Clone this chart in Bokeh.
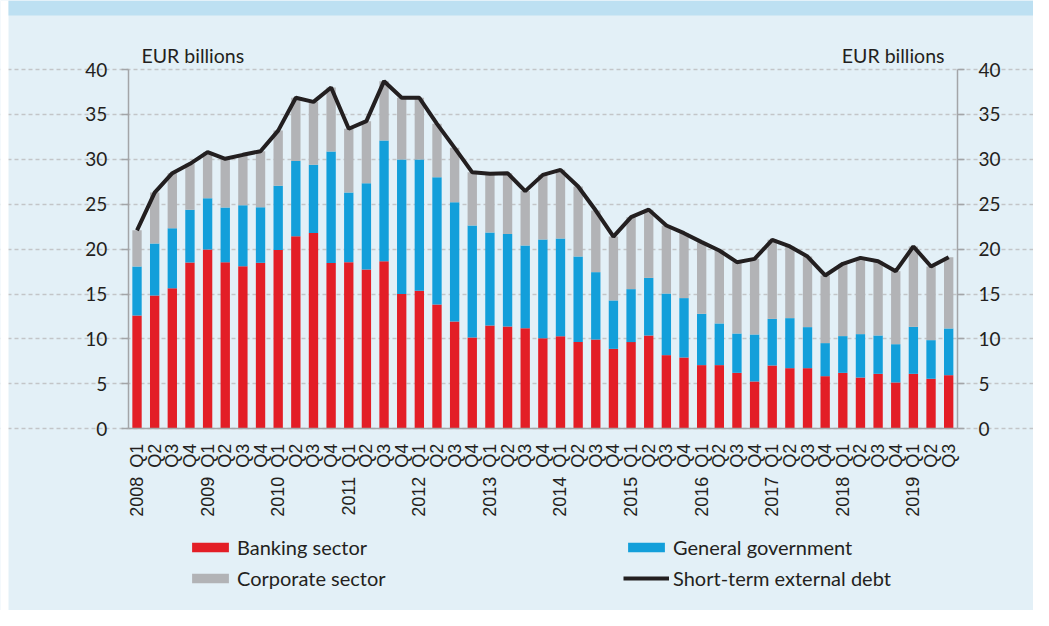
import numpy as np
from bokeh.plotting import figure
from bokeh.models import (ColumnDataSource, Range1d, LinearAxis, FixedTicker,
                          Legend, LegendItem, Label, BoxAnnotation)
from bokeh.embed import file_html
from bokeh.resources import INLINE

# ---------------- data (EUR billions) ----------------
years = list(range(2008, 2020))
quarters = ["Q1", "Q2", "Q3", "Q4"]
periods = [(y, q) for y in years for q in quarters][:47]

banking = [12.6, 14.84, 15.66, 18.5, 19.96, 18.55, 18.1, 18.48, 19.9, 21.45,
           21.8, 18.45, 18.55, 17.74, 18.66, 15.0, 15.36, 13.84, 11.95, 10.17,
           11.5, 11.39, 11.2, 10.09, 10.3, 9.65, 9.94, 8.9, 9.65, 10.39,
           8.2, 7.94, 7.09, 7.09, 6.23, 5.27, 7.05, 6.75, 6.75, 5.86,
           6.23, 5.71, 6.12, 5.16, 6.12, 5.57, 5.97]
government = [5.47, 5.79, 6.68, 5.9, 5.72, 6.09, 6.8, 6.19, 7.15, 8.35,
              7.6, 12.42, 7.75, 9.61, 13.44, 14.98, 14.62, 14.16, 13.28, 12.46,
              10.36, 10.31, 9.2, 10.99, 10.89, 9.53, 7.5, 5.39, 5.9, 6.41,
              6.86, 6.61, 5.71, 4.64, 4.38, 5.23, 5.19, 5.57, 4.57, 3.68,
              4.09, 4.83, 4.27, 4.26, 5.23, 4.3, 5.2]
corporate = [4.03, 5.67, 6.12, 5.1, 5.12, 5.42, 5.6, 6.23, 6.15, 7.05,
             7.0, 7.13, 7.1, 6.9, 6.6, 6.87, 6.87, 5.95, 6.05, 5.92,
             6.54, 6.76, 6.06, 7.19, 7.64, 7.8, 6.86, 7.11, 8.01, 7.6,
             7.57, 7.23, 7.98, 8.12, 7.94, 8.42, 8.8, 7.98, 7.86, 7.53,
             8.05, 8.49, 8.27, 8.13, 8.95, 8.2, 7.93]
total_debt = [22.1, 26.3, 28.46, 29.5, 30.8, 30.06, 30.5, 30.9, 33.2, 36.85,
              36.4, 38.0, 33.4, 34.25, 38.7, 36.85, 36.85, 33.95, 31.28, 28.55,
              28.4, 28.46, 26.46, 28.27, 28.83, 26.98, 24.3, 21.4, 23.56, 24.4,
              22.63, 21.78, 20.78, 19.85, 18.55, 18.92, 21.04, 20.3, 19.18, 17.07,
              18.37, 19.03, 18.66, 17.55, 20.3, 18.07, 19.1]
y_ticks = [0, 5, 10, 15, 20, 25, 30, 35, 40]

# ---------------- styles ----------------
BG = "#e3f0f7"
BAND = "#bde0f2"
RED = "#e31e26"
BLUE = "#139fda"
GRAY = "#b2b3b6"
BLACK = "#231f20"
AXIS = "#a3a5a8"
GRID = "#c3c5c8"
TXT = "#231f20"

W, H = 1033, 610
n = len(periods)
x = list(range(n))
labels = {i: (f"{y}\u2002{q}" if q == "Q1" else q) for i, (y, q) in enumerate(periods)}

# plot-area geometry (pixels inside the canvas)
PLOT_L, PLOT_R = 127.7, 957.0      # left / right axis lines
PLOT_T, PLOT_B = 69.0, 428.3       # y = 40 line / y = 0 line
xu = (PLOT_R - PLOT_L) / n          # px per category
yu = (PLOT_B - PLOT_T) / 40.0       # px per EUR bn
x_lo = -0.5 - PLOT_L / xu
x_hi = -0.5 + (W - PLOT_L) / xu
y_hi = PLOT_B / yu
y_lo = -(H - PLOT_B) / yu


def px_x(px):
    return x_lo + px / xu


def px_y(py):
    return y_hi - py / yu


source = ColumnDataSource(dict(x=x, bank=banking, gov=government,
                               corp=corporate, total=total_debt))

p = figure(width=W, height=H,
           x_range=Range1d(x_lo, x_hi), y_range=Range1d(y_lo, y_hi),
           output_backend="svg", toolbar_location=None,
           min_border=0, min_border_left=0, min_border_right=0,
           min_border_top=0, min_border_bottom=0,
           background_fill_color=BG, border_fill_color=BG,
           outline_line_color=None)

# page edge strip and title strip
p.add_layout(BoxAnnotation(right=px_x(8), fill_color="white", fill_alpha=1,
                           line_color=None, level="underlay"))
p.add_layout(BoxAnnotation(left=px_x(8), bottom=px_y(15), fill_color=BAND,
                           fill_alpha=1, line_color=None, level="underlay"))

p.xgrid.visible = False
p.ygrid.ticker = FixedTicker(ticks=y_ticks)
p.ygrid.grid_line_color = GRID
p.ygrid.grid_line_dash = "4 3"
p.ygrid.grid_line_width = 1.5
p.ygrid.bounds = (-0.5, n - 0.5)

bars = p.vbar_stack(["bank", "gov", "corp"], x="x", width=0.53,
                    color=[RED, BLUE, GRAY], source=source, line_width=0)
line_r = p.line("x", "total", source=source, line_color=BLACK, line_width=4)

# x axis at y = 0
xa = p.xaxis[0]
xa.fixed_location = 0
xa.bounds = (-0.5, n - 0.5)
xa.ticker = FixedTicker(ticks=x)
xa.major_label_overrides = labels
xa.major_label_orientation = np.pi / 2
xa.major_tick_out = 0
xa.major_tick_in = 0
xa.minor_tick_out = 0
xa.minor_tick_in = 0
xa.axis_line_color = AXIS
xa.axis_line_width = 1.5
xa.major_label_text_font = "Liberation Sans"
xa.major_label_text_font_size = "18px"
xa.major_label_text_color = TXT
xa.major_label_standoff = 15


def style_y(ax, loc):
    ax.fixed_location = loc
    ax.ticker = FixedTicker(ticks=y_ticks)
    ax.bounds = (0, 40)
    ax.major_tick_out = 7
    ax.major_tick_in = 0
    ax.minor_tick_out = 0
    ax.minor_tick_in = 0
    ax.axis_line_color = AXIS
    ax.axis_line_width = 1.5
    ax.major_tick_line_color = AXIS
    ax.major_tick_line_width = 1.5
    ax.major_label_text_font = "Lato"
    ax.major_label_text_font_size = "19px"
    ax.major_label_text_color = TXT
    ax.major_label_standoff = 14


style_y(p.yaxis[0], -0.5)
ry = LinearAxis()
style_y(ry, n - 0.5)
p.add_layout(ry, "right")

# unit labels
for xpos, align in [(141, "left"), (944, "right")]:
    p.add_layout(Label(x=xpos, y=H - 55, x_units="screen", y_units="screen",
                       text="EUR billions", text_font="Lato",
                       text_font_size="19.5px", text_color=TXT,
                       text_align=align, text_baseline="middle"))


def make_legend(items, loc):
    return Legend(items=items, location=loc, orientation="vertical",
                  glyph_width=46, glyph_height=12, label_standoff=4,
                  spacing=7, padding=0, margin=0, label_height=20,
                  border_line_color=None, background_fill_alpha=0,
                  label_text_font="Lato", label_text_font_size="20px",
                  label_text_color=TXT)


leg1 = make_legend([LegendItem(label="Banking sector", renderers=[bars[0]]),
                    LegendItem(label="Corporate sector", renderers=[bars[2]])],
                   (187, H - 590))
leg2 = make_legend([LegendItem(label="General government", renderers=[bars[1]]),
                    LegendItem(label="Short-term external debt", renderers=[line_r])],
                   (623, H - 590))
p.add_layout(leg1, "center")
p.add_layout(leg2, "center")

open("out.html", "w").write(file_html(p, INLINE))
